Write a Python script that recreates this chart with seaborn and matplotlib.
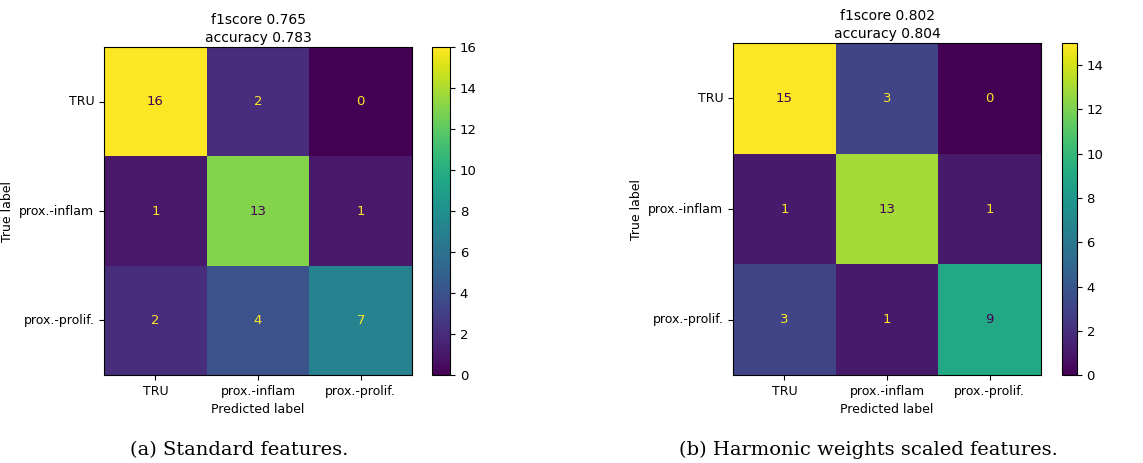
import numpy as np
import matplotlib
matplotlib.use('Agg')
import matplotlib.pyplot as plt
import seaborn as sns

# class names and confusion matrices
labels = ['TRU', 'prox.-inflam', 'prox.-prolif.']
cm_standard = [[16, 2, 0],
               [1, 13, 1],
               [2, 4, 7]]
cm_harmonic = [[15, 3, 0],
               [1, 13, 1],
               [3, 1, 9]]
titles = ['f1score 0.765\naccuracy 0.783', 'f1score 0.802\naccuracy 0.804']
captions = ['(a) Standard features.', '(b) Harmonic weights scaled features.']

plt.rcParams['font.family'] = ['DejaVu Sans']
fig = plt.figure(figsize=(11.43, 4.63), dpi=100)

# positions [heatmap, colorbar]
layout = [
    ([0.091, 0.190, 0.2695, 0.708], [0.378, 0.190, 0.0157, 0.708]),
    ([0.6413, 0.190, 0.2695, 0.717], [0.929, 0.190, 0.0131, 0.717]),
]
caption_x = [0.209, 0.760]

cmap = plt.get_cmap('viridis')
for k, cm in enumerate([cm_standard, cm_harmonic]):
    cm = np.array(cm)
    ax = fig.add_axes(layout[k][0])
    cax = fig.add_axes(layout[k][1])
    sns.heatmap(cm, ax=ax, cbar_ax=cax, cmap='viridis', annot=True, fmt='d',
                vmin=cm.min(), vmax=cm.max(),
                xticklabels=labels, yticklabels=labels,
                annot_kws={'fontsize': 9.5})
    # sklearn style text colours
    thresh = (cm.max() + cm.min()) / 2.0
    for t in ax.texts:
        v = int(t.get_text())
        t.set_color(cmap(1.0) if v < thresh else cmap(0.0))
    for s in ax.spines.values():
        s.set_visible(True)
        s.set_linewidth(0.8)
    cb = ax.collections[0].colorbar
    cb.outline.set_linewidth(0.8)
    cb.outline.set_visible(True)
    cb.set_ticks(np.arange(0, cm.max() + 1, 2))
    cax.tick_params(labelsize=9.5)
    ax.set_yticklabels(labels, rotation=0, fontsize=9)
    ax.set_xticklabels(labels, rotation=0, fontsize=9)
    ax.tick_params(length=3.5)
    ax.set_xlabel('Predicted label', fontsize=9)
    ax.set_ylabel('True label', fontsize=9)
    ax.set_title(titles[k], fontsize=10, pad=4, linespacing=1.35)
    fig.text(caption_x[k], 0.028, captions[k], ha='center', va='center',
             fontsize=14, family=['DejaVu Serif'])

fig.savefig('out.png', dpi=100)
